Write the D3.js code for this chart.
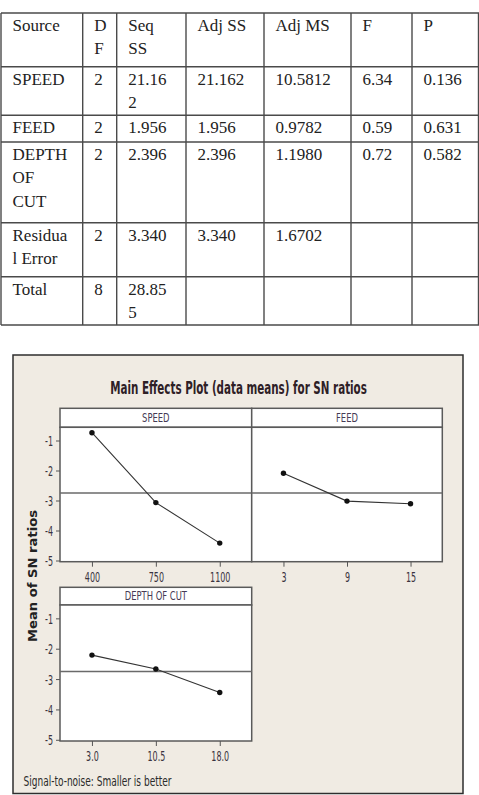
<!DOCTYPE html>
<html>
<head>
<meta charset="utf-8">
<script src="https://cdn.jsdelivr.net/npm/d3@7"></script>
<style>
  html, body { margin: 0; padding: 0; background: #ffffff; }
  svg { display: block; }
</style>
</head>
<body>
<script>
// ---------- Table data (ANOVA) ----------
const tableHeader  = ["Source", "D\nF", "Seq\nSS", "Adj SS", "Adj MS", "F", "P"];
const tableSources = ["SPEED", "FEED", "DEPTH\nOF\nCUT", "Residua\nl Error", "Total"];
const tableDF      = ["2", "2", "2", "2", "8"];
const tableSeqSS   = ["21.16\n2", "1.956", "2.396", "3.340", "28.85\n5"];
const tableAdjSS   = ["21.162", "1.956", "2.396", "3.340", ""];
const tableAdjMS   = ["10.5812", "0.9782", "1.1980", "1.6702", ""];
const tableF       = ["6.34", "0.59", "0.72", "", ""];
const tableP       = ["0.136", "0.631", "0.582", "", ""];

// ---------- Chart data (Main effects, SN ratios) ----------
const chartTitle  = "Main Effects Plot (data means) for SN ratios";
const yAxisLabel  = "Mean of SN ratios";
const footnote    = "Signal-to-noise: Smaller is better";
const panelNames  = ["SPEED", "FEED", "DEPTH OF CUT"];
const speedLevels = ["400", "750", "1100"];
const speedMeans  = [-0.74, -3.07, -4.42];
const feedLevels  = ["3", "9", "15"];
const feedMeans   = [-2.09, -3.02, -3.11];
const docLevels   = ["3.0", "10.5", "18.0"];
const docMeans    = [-2.21, -2.67, -3.44];
const grandMean   = -2.75;
const yTicks      = [-1, -2, -3, -4, -5];

// ---------- Layout ----------
const W = 479, H = 795;
const svg = d3.select("body").append("svg").attr("width", W).attr("height", H);

function squeeze(sel, k) {
  sel.each(function () {
    const w = this.getComputedTextLength();
    d3.select(this).attr("textLength", w * k).attr("lengthAdjust", "spacingAndGlyphs");
  });
}

// ---------- Table ----------
const colX = [1, 82.7, 116.7, 186, 264, 351, 412, 478.5];
const rowY = [13, 66.7, 115.3, 142, 222.7, 276.7, 325];
const rows = [tableHeader].concat(tableSources.map((s, i) =>
  [s, tableDF[i], tableSeqSS[i], tableAdjSS[i], tableAdjMS[i], tableF[i], tableP[i]]));

const tg = svg.append("g");
rowY.forEach(y => tg.append("line").attr("x1", colX[0]).attr("x2", W).attr("y1", y).attr("y2", y)
  .attr("stroke", "#4a4a4a").attr("stroke-width", 1.4));
colX.forEach(x => tg.append("line").attr("x1", x).attr("x2", x).attr("y1", rowY[0]).attr("y2", rowY[rowY.length - 1])
  .attr("stroke", "#4a4a4a").attr("stroke-width", 1.4));

rows.forEach((row, r) => {
  row.forEach((cell, c) => {
    if (!cell) return;
    const t = tg.append("text")
      .attr("x", colX[c] + 11.5)
      .attr("y", rowY[r] + 18)
      .attr("font-family", "'Liberation Serif', 'Times New Roman', serif")
      .attr("font-size", 17)
      .attr("fill", "#222");
    cell.split("\n").forEach((ln, i) => {
      t.append("tspan").attr("x", colX[c] + 11.5).attr("y", rowY[r] + 18 + i * 23.4).text(ln);
    });
  });
});

// ---------- Chart frame ----------
const cg = svg.append("g");
cg.append("rect").attr("x", 13).attr("y", 355).attr("width", 450).attr("height", 438.5)
  .attr("fill", "#f0ebe3").attr("stroke", "#2e2e2e").attr("stroke-width", 1.5);

// title, condensed horizontally with a scale transform
const titleG = cg.append("g");
const titleT = titleG.append("text").attr("x", 0).attr("y", 0).attr("text-anchor", "middle")
  .attr("font-family", "'DejaVu Sans', sans-serif").attr("font-weight", "bold").attr("font-size", 17.5)
  .attr("fill", "#2e2026").text(chartTitle);
const tw = titleT.node().getComputedTextLength();
titleG.attr("transform", `translate(238.5,394) scale(${257 / tw},1)`);

const panels = [
  { name: panelNames[0], levels: speedLevels, means: speedMeans, x0: 60,    x1: 251.7, top: 408.3, strip: 427.3, bottom: 561.7, yAxis: true },
  { name: panelNames[1], levels: feedLevels,  means: feedMeans,  x0: 251.7, x1: 442.3, top: 408.3, strip: 427.3, bottom: 561.7, yAxis: false },
  { name: panelNames[2], levels: docLevels,   means: docMeans,   x0: 60,    x1: 251.7, top: 587.3, strip: 605,   bottom: 741,   yAxis: true }
];

const tickFont = "'DejaVu Sans', sans-serif";

panels.forEach(p => {
  const g = cg.append("g");
  const x = d3.scalePoint().domain(p.levels).range([p.x0, p.x1]).padding(0.5);
  const y = d3.scaleLinear().domain([-5.04, -0.56]).range([p.bottom, p.strip]);

  // strip + plot area
  g.append("rect").attr("x", p.x0).attr("y", p.top).attr("width", p.x1 - p.x0).attr("height", p.strip - p.top)
    .attr("fill", "#ffffff").attr("stroke", "#5a5a5a").attr("stroke-width", 1.5);
  g.append("rect").attr("x", p.x0).attr("y", p.strip).attr("width", p.x1 - p.x0).attr("height", p.bottom - p.strip)
    .attr("fill", "#ffffff").attr("stroke", "#5a5a5a").attr("stroke-width", 1.5);

  const st = g.append("text").attr("x", (p.x0 + p.x1) / 2).attr("y", p.strip - 5)
    .attr("text-anchor", "middle").attr("font-family", tickFont).attr("font-size", 11.5)
    .attr("fill", "#463a55").text(p.name);
  squeeze(st, 0.73);

  // reference line (grand mean)
  g.append("line").attr("x1", p.x0).attr("x2", p.x1).attr("y1", y(grandMean)).attr("y2", y(grandMean))
    .attr("stroke", "#6a6a6a").attr("stroke-width", 1.3);

  // x axis ticks
  const xa = g.append("g").attr("transform", `translate(0,${p.bottom})`)
    .call(d3.axisBottom(x).tickSize(5).tickPadding(3));
  xa.select(".domain").remove();
  xa.selectAll(".tick line").attr("stroke", "#555");
  xa.selectAll(".tick text").attr("font-family", tickFont).attr("font-size", 14).attr("fill", "#3a3340")
    .attr("dy", null).attr("y", 20);
  squeeze(xa.selectAll(".tick text"), 0.57);

  if (p.yAxis) {
    const ya = g.append("g").attr("transform", `translate(${p.x0},0)`)
      .call(d3.axisLeft(y).tickValues(yTicks).tickFormat(d3.format("d")).tickSize(4).tickPadding(3));
    ya.select(".domain").remove();
    ya.selectAll(".tick line").attr("stroke", "#555");
    ya.selectAll(".tick text").attr("font-family", tickFont).attr("font-size", 14).attr("fill", "#3a3340")
      .attr("dy", "0.36em").text(d => "-" + Math.abs(d));
    squeeze(ya.selectAll(".tick text"), 0.57);
  }

  // data line + points
  const pts = p.levels.map((l, i) => [x(l), y(p.means[i])]);
  g.append("path").attr("d", d3.line()(pts)).attr("fill", "none").attr("stroke", "#333").attr("stroke-width", 1.1);
  g.selectAll("circle.pt").data(pts).join("circle").attr("class", "pt")
    .attr("cx", d => d[0]).attr("cy", d => d[1]).attr("r", 2.7).attr("fill", "#111");
});

// y axis label
cg.append("text").attr("transform", "translate(37,576) rotate(-90)").attr("text-anchor", "middle")
  .attr("font-family", tickFont).attr("font-weight", "bold").attr("font-size", 12.5)
  .attr("fill", "#222").text(yAxisLabel)
  .attr("textLength", 132).attr("lengthAdjust", "spacingAndGlyphs");

// footnote
cg.append("text").attr("x", 23.5).attr("y", 786).attr("font-family", tickFont)
  .attr("font-size", 14).attr("fill", "#2a2a2a").text(footnote)
  .attr("textLength", 148).attr("lengthAdjust", "spacingAndGlyphs");
</script>
</body>
</html>
